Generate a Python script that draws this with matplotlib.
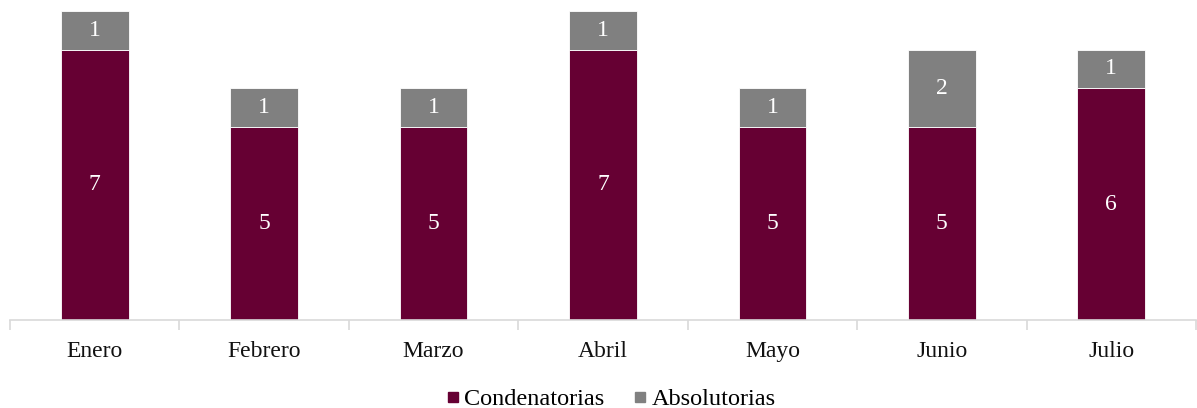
import matplotlib.pyplot as plt
import numpy as np
from matplotlib.lines import Line2D

months = ["Enero", "Febrero", "Marzo", "Abril", "Mayo", "Junio", "Julio"]
condenatorias = [7, 5, 5, 7, 5, 5, 6]
absolutorias = [1, 1, 1, 1, 1, 2, 1]

maroon = "#660033"
gray = "#808080"

plt.rcParams['font.family'] = ['Liberation Serif', 'DejaVu Serif']

fig = plt.figure(figsize=(11.97, 4.08), dpi=100)
ax = fig.add_axes([10 / 1197, (408 - 320) / 408, 1186 / 1197, (320 - 11) / 408])

x = np.arange(len(months))
b1 = ax.bar(x, condenatorias, width=0.4, color=maroon, edgecolor="white", linewidth=0.6)
b2 = ax.bar(x, absolutorias, width=0.4, bottom=condenatorias, color=gray, edgecolor="white",
            linewidth=0.6)

for rect, val in zip(b1, condenatorias):
    ax.text(rect.get_x() + rect.get_width() / 2, rect.get_height() / 2, str(val),
            ha="center", va="center", color="white", fontsize=17)
for rect, base, val in zip(b2, condenatorias, absolutorias):
    ax.text(rect.get_x() + rect.get_width() / 2, base + val / 2, str(val),
            ha="center", va="center", color="white", fontsize=17)

ax.set_xlim(-0.5, len(months) - 0.5)
ax.set_ylim(0, 8)
ax.set_yticks([])
ax.set_xticks(x)
ax.set_xticklabels(months, fontsize=17, color="#111111")
ax.tick_params(axis="x", length=0, pad=15)
ax.set_xticks(np.arange(-0.5, len(months)), minor=True)
ax.tick_params(axis="x", which="minor", length=7, color="#d9d9d9", width=1.2)

for side in ["top", "right", "left"]:
    ax.spines[side].set_visible(False)
ax.spines["bottom"].set_color("#d9d9d9")
ax.spines["bottom"].set_linewidth(1.2)

handles = [
    Line2D([], [], marker="s", linestyle="none", markersize=7.5, color=maroon, label="Condenatorias"),
    Line2D([], [], marker="s", linestyle="none", markersize=7.5, color=gray, label="Absolutorias"),
]
fig.legend(handles=handles, loc="center", bbox_to_anchor=(0.51, 1 - 399 / 408), ncol=2,
           frameon=False, fontsize=17.5, handlelength=0.6, handletextpad=0.15,
           columnspacing=1.2)

fig.savefig("out.png", dpi=100)
